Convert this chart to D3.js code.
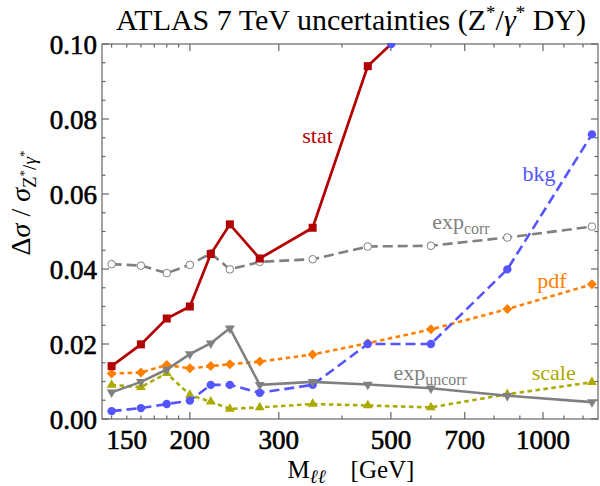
<!DOCTYPE html>
<html>
<head>
<meta charset="utf-8">
<script src="https://cdn.jsdelivr.net/npm/d3@7"></script>
<style>
  body { margin: 0; background: #fff; }
  svg text { font-family: "Liberation Serif", "DejaVu Serif", serif; }
  .tick-label { font-size: 27px; fill: #000; stroke: #000; stroke-width: 0.6px; }
</style>
</head>
<body>
<svg id="chart" width="600" height="486"></svg>
<script>
// bin centres in GeV
var masses = [140, 160, 180, 200, 220, 240, 275, 350, 450, 600, 850, 1250];

var stat      = [0.0141, 0.0199, 0.0268, 0.0300, 0.0440, 0.0519, 0.0428, 0.0510, 0.0941, 0.110];
var bkg       = [0.0021, 0.0029, 0.0040, 0.0049, 0.0091, 0.0091, 0.0070, 0.0091, 0.0200, 0.0200, 0.0399, 0.0759];
var expCorr   = [0.0413, 0.0409, 0.0389, 0.0411, 0.0442, 0.0399, 0.0419, 0.0426, 0.0460, 0.0462, 0.0484, 0.0513];
var expUncorr = [0.0071, 0.0099, 0.0132, 0.0173, 0.0202, 0.0242, 0.0091, 0.0099, 0.0092, 0.0082, 0.0062, 0.0045];
var pdf       = [0.0121, 0.0124, 0.0144, 0.0135, 0.0141, 0.0146, 0.0153, 0.0172, 0.0202, 0.0239, 0.0293, 0.0359];
var scale     = [0.0091, 0.0085, 0.0122, 0.0064, 0.0046, 0.0027, 0.0031, 0.0040, 0.0036, 0.0031, 0.0066, 0.0098];

var xTickLabels = [150, 200, 300, 500, 700, 1000];
var xMinorTicks = [140, 150, 160, 170, 180, 190, 200, 300, 400, 500, 600, 700, 800, 900, 1000, 1100, 1200];
var yTicks = [0, 0.02, 0.04, 0.06, 0.08, 0.10];

var svg = d3.select("#chart");
var L = 102, R = 598, T = 44, B = 419;

var x = d3.scaleLog().domain([134, 1285]).range([L, R]);
var y = d3.scaleLinear().domain([0, 0.10]).range([B, T]);

// clip
svg.append("clipPath").attr("id", "clip")
  .append("rect").attr("x", L).attr("y", T - 1).attr("width", R - L).attr("height", B - T + 1);

// frame
var axisColor = "#666";
svg.append("rect").attr("x", L).attr("y", T).attr("width", R - L).attr("height", B - T)
  .attr("fill", "none").attr("stroke", axisColor).attr("stroke-width", 1.2);

// y ticks
var yMinor = d3.range(0, 0.1001, 0.005);
yMinor.forEach(function(v) {
  var major = Math.abs(v / 0.02 - Math.round(v / 0.02)) < 1e-6;
  var len = major ? 7 : 3.5;
  svg.append("line").attr("x1", L).attr("x2", L + len).attr("y1", y(v)).attr("y2", y(v))
    .attr("stroke", axisColor).attr("stroke-width", 1.2);
  svg.append("line").attr("x1", R).attr("x2", R - len).attr("y1", y(v)).attr("y2", y(v))
    .attr("stroke", axisColor).attr("stroke-width", 1.2);
});
svg.selectAll(".ylab").data(yTicks).enter().append("text")
  .attr("class", "tick-label")
  .attr("x", L - 5).attr("y", function(d) { return y(d) + 10; })
  .attr("text-anchor", "end")
  .text(function(d) { return d3.format(".2f")(d); });

// x ticks
xMinorTicks.forEach(function(v) {
  var major = [200, 300, 500, 700, 1000].indexOf(v) >= 0;
  var len = major ? 7 : 3.5;
  svg.append("line").attr("x1", x(v)).attr("x2", x(v)).attr("y1", B).attr("y2", B - len)
    .attr("stroke", axisColor).attr("stroke-width", 1.2);
  svg.append("line").attr("x1", x(v)).attr("x2", x(v)).attr("y1", T).attr("y2", T + len)
    .attr("stroke", axisColor).attr("stroke-width", 1.2);
});
svg.selectAll(".xlab").data(xTickLabels).enter().append("text")
  .attr("class", "tick-label")
  .attr("x", function(d) { return x(d); }).attr("y", B + 30)
  .attr("text-anchor", "middle")
  .text(function(d) { return d; });

// series
var series = [
  {name: "expCorr", vals: expCorr, color: "#808080", dash: "10,5", width: 2.6, sym: "ocircle"},
  {name: "scale", vals: scale, color: "#aaaa00", dash: "4.5,3.5", width: 2.6, sym: "up"},
  {name: "pdf", vals: pdf, color: "#ff8000", dash: "4.5,3.5", width: 2.6, sym: "diamond"},
  {name: "bkg", vals: bkg, color: "#5555ff", dash: "10,5", width: 2.6, sym: "circle"},
  {name: "expUncorr", vals: expUncorr, color: "#808080", dash: null, width: 2.6, sym: "down"},
  {name: "stat", vals: stat, color: "#b30000", dash: null, width: 2.7, sym: "square"}
];

var plot = svg.append("g").attr("clip-path", "url(#clip)");
var line = d3.line().x(function(d) { return x(d[0]); }).y(function(d) { return y(d[1]); });

series.forEach(function(s) {
  var pts = s.vals.map(function(v, i) { return [masses[i], v]; });
  plot.append("path").datum(pts)
    .attr("d", line).attr("fill", "none")
    .attr("stroke", s.color).attr("stroke-width", s.width)
    .attr("stroke-dasharray", s.dash);
  var g = plot.append("g");
  pts.forEach(function(p) {
    var cx = x(p[0]), cy = y(p[1]);
    if (s.sym === "square") {
      g.append("rect").attr("x", cx - 4).attr("y", cy - 4).attr("width", 8).attr("height", 8)
        .attr("fill", s.color);
    } else if (s.sym === "circle") {
      g.append("circle").attr("cx", cx).attr("cy", cy).attr("r", 4.2).attr("fill", s.color);
    } else if (s.sym === "ocircle") {
      g.append("circle").attr("cx", cx).attr("cy", cy).attr("r", 3.8)
        .attr("fill", "#fff").attr("stroke", s.color).attr("stroke-width", 1);
    } else if (s.sym === "diamond") {
      g.append("path").attr("d", d3.symbol(d3.symbolSquare, 50)())
        .attr("transform", "translate(" + cx + "," + cy + ") rotate(45)").attr("fill", s.color);
    } else if (s.sym === "up") {
      g.append("path").attr("d", d3.symbol(d3.symbolTriangle, 42)())
        .attr("transform", "translate(" + cx + "," + cy + ")").attr("fill", s.color);
    } else if (s.sym === "down") {
      g.append("path").attr("d", d3.symbol(d3.symbolTriangle, 42)())
        .attr("transform", "translate(" + cx + "," + cy + ") rotate(180)").attr("fill", s.color);
    }
  });
});

// blue dot where the stat curve leaves the frame
(function() {
  var i = 8, a = stat[i], b = stat[i + 1];
  var t = (0.10 - a) / (b - a);
  var lm = Math.log(masses[i]) + t * (Math.log(masses[i + 1]) - Math.log(masses[i]));
  plot.append("circle").attr("cx", x(Math.exp(lm))).attr("cy", y(0.10)).attr("r", 4.2).attr("fill", "#5555ff");
})();

// curve labels, placed in data coordinates
var labels = [
  {t: "stat", m: 358, v: 0.0736, c: "#b30000"},
  {t: "bkg", m: 982, v: 0.0635, c: "#5555ff"},
  {t: "exp", sub: "corr", m: 688, v: 0.0507, c: "#808080"},
  {t: "pdf", m: 1042, v: 0.0349, c: "#ff8000"},
  {t: "exp", sub: "uncorr", m: 598, v: 0.0104, c: "#808080"},
  {t: "scale", m: 1050, v: 0.0104, c: "#aaaa00"}
];
labels.forEach(function(l) {
  var tx = svg.append("text").attr("x", x(l.m)).attr("y", y(l.v))
    .attr("text-anchor", "middle").attr("fill", l.c).attr("font-size", 22);
  tx.append("tspan").text(l.t);
  if (l.sub) tx.append("tspan").attr("dy", 5).attr("font-size", 16).text(l.sub);
});

// title
var title = svg.append("text").attr("x", 351).attr("y", 30).attr("text-anchor", "middle")
  .attr("font-size", 30).attr("fill", "#000");
title.append("tspan").text("ATLAS 7 TeV uncertainties (Z");
title.append("tspan").attr("dy", -11).attr("font-size", 19).text("*");
title.append("tspan").attr("dy", 11).text("/");
title.append("tspan").attr("font-style", "italic").text("γ");
title.append("tspan").attr("dy", -11).attr("font-size", 19).text("*");
title.append("tspan").attr("dy", 11).text(" DY)");

// x label
var xl = svg.append("text").attr("x", 351).attr("y", 478).attr("text-anchor", "middle")
  .attr("font-size", 25).attr("fill", "#000");
xl.append("tspan").text("M");
xl.append("tspan").attr("dy", 5).attr("font-size", 19).attr("font-style", "italic").text("ℓℓ");
xl.append("tspan").attr("dy", -5).text("\u2002\u2002[GeV]");

// y label
var yl = svg.append("text").attr("transform", "translate(30,203) rotate(-90)")
  .attr("text-anchor", "middle").attr("font-size", 28).attr("fill", "#000");
yl.append("tspan").text("Δ");
yl.append("tspan").attr("font-style", "italic").text("σ");
yl.append("tspan").text(" / ");
yl.append("tspan").attr("font-style", "italic").text("σ");
yl.append("tspan").attr("dy", 6).attr("font-size", 19).text("Z");
yl.append("tspan").attr("dy", -8).attr("font-size", 13).text("*");
yl.append("tspan").attr("dy", 8).attr("font-size", 19).text("/");
yl.append("tspan").attr("font-size", 19).attr("font-style", "italic").text("γ");
yl.append("tspan").attr("dy", -8).attr("font-size", 13).text("*");
</script>
</body>
</html>
